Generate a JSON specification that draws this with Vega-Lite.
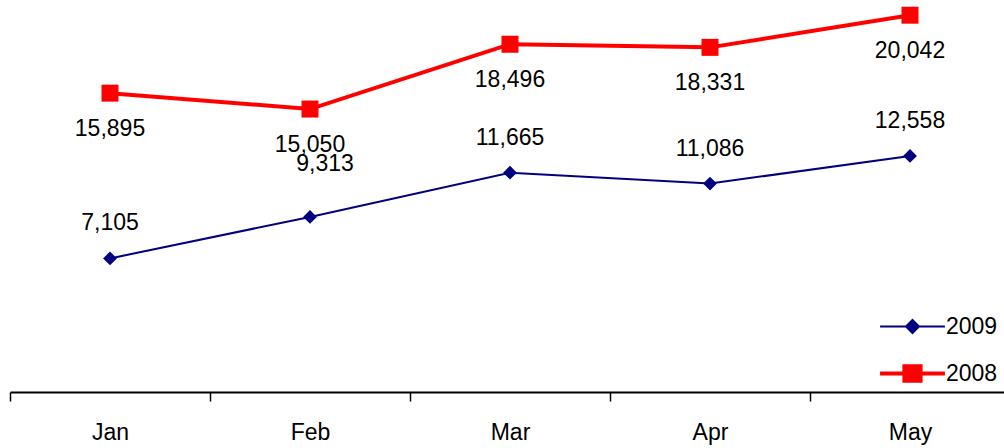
{
  "$schema": "https://vega.github.io/schema/vega-lite/v6.json",
  "width": 994,
  "height": 392,
  "autosize": {"type": "none"},
  "padding": {"left": 10, "top": 0, "right": 0, "bottom": 56},
  "config": {
    "view": {"stroke": null},
    "font": "Liberation Sans",
    "text": {"font": "Liberation Sans"}
  },
  "data": {
    "values": [
      {"month": "Jan", "series": "2008", "value": 15895},
      {"month": "Feb", "series": "2008", "value": 15050},
      {"month": "Mar", "series": "2008", "value": 18496},
      {"month": "Apr", "series": "2008", "value": 18331},
      {"month": "May", "series": "2008", "value": 20042},
      {"month": "Jan", "series": "2009", "value": 7105},
      {"month": "Feb", "series": "2009", "value": 9313},
      {"month": "Mar", "series": "2009", "value": 11665},
      {"month": "Apr", "series": "2009", "value": 11086},
      {"month": "May", "series": "2009", "value": 12558}
    ]
  },
  "encoding": {
    "x": {
      "field": "month",
      "type": "ordinal",
      "scale": {
        "type": "band",
        "domain": ["Jan", "Feb", "Mar", "Apr", "May"],
        "range": [0, 1000],
        "paddingInner": 0,
        "paddingOuter": 0
      },
      "axis": {
        "title": null,
        "tickBand": "extent",
        "labelAngle": 0,
        "labelFontSize": 23,
        "labelColor": "black",
        "labelPadding": 20,
        "tickSize": 9,
        "tickColor": "black",
        "tickWidth": 1.5,
        "domainColor": "black",
        "domainWidth": 2,
        "grid": false
      }
    },
    "y": {
      "field": "value",
      "type": "quantitative",
      "scale": {"domain": [0, 20850], "nice": false, "zero": true},
      "axis": null
    },
    "color": {
      "field": "series",
      "type": "nominal",
      "scale": {"domain": ["2009", "2008"], "range": ["#000080", "#FF0000"]},
      "legend": {
        "orient": "none",
        "legendX": 891,
        "legendY": 315,
        "title": null,
        "padding": 0,
        "labelFontSize": 23,
        "labelColor": "black",
        "labelOffset": 22,
        "symbolSize": 4200,
        "rowPadding": 19,
        "encode": {
          "symbols": {
            "update": {
              "shape": {"signal": "datum.value === '2009' ? 'M-1,0L1,0M0,-0.2L0.2,0L0,0.2L-0.2,0Z' : 'M-1,0L1,0M-0.25,-0.22L0.25,-0.22L0.25,0.22L-0.25,0.22Z'"},
              "strokeWidth": {"signal": "datum.value === '2009' ? 2 : 4"},
              "fill": {"signal": "scale('color', datum.value)"},
              "stroke": {"signal": "scale('color', datum.value)"},
              "opacity": {"value": 1},
              "fillOpacity": {"value": 1}
            }
          }
        }
      }
    }
  },
  "layer": [
    {
      "transform": [{"filter": "datum.series === '2008'"}],
      "mark": {"type": "line", "strokeWidth": 4}
    },
    {
      "transform": [{"filter": "datum.series === '2009'"}],
      "mark": {"type": "line", "strokeWidth": 2}
    },
    {
      "transform": [{"filter": "datum.series === '2008'"}],
      "mark": {"type": "point", "shape": "square", "filled": true, "size": 289, "opacity": 1}
    },
    {
      "transform": [{"filter": "datum.series === '2009'"}],
      "mark": {"type": "point", "shape": "diamond", "filled": true, "size": 190, "opacity": 1}
    },
    {
      "transform": [{"filter": "datum.series === '2008'"}],
      "mark": {"type": "text", "dy": 36, "fontSize": 23, "baseline": "middle", "align": "center"},
      "encoding": {
        "text": {"field": "value", "type": "quantitative", "format": ","},
        "color": {"value": "black"}
      }
    },
    {
      "transform": [{"filter": "datum.series === '2009' && datum.month !== 'Feb'"}],
      "mark": {"type": "text", "dy": -35, "fontSize": 23, "baseline": "middle", "align": "center"},
      "encoding": {
        "text": {"field": "value", "type": "quantitative", "format": ","},
        "color": {"value": "black"}
      }
    },
    {
      "transform": [{"filter": "datum.series === '2009' && datum.month === 'Feb'"}],
      "mark": {"type": "text", "dx": 15, "dy": -53, "fontSize": 23, "baseline": "middle", "align": "center"},
      "encoding": {
        "text": {"field": "value", "type": "quantitative", "format": ","},
        "color": {"value": "black"}
      }
    }
  ]
}
